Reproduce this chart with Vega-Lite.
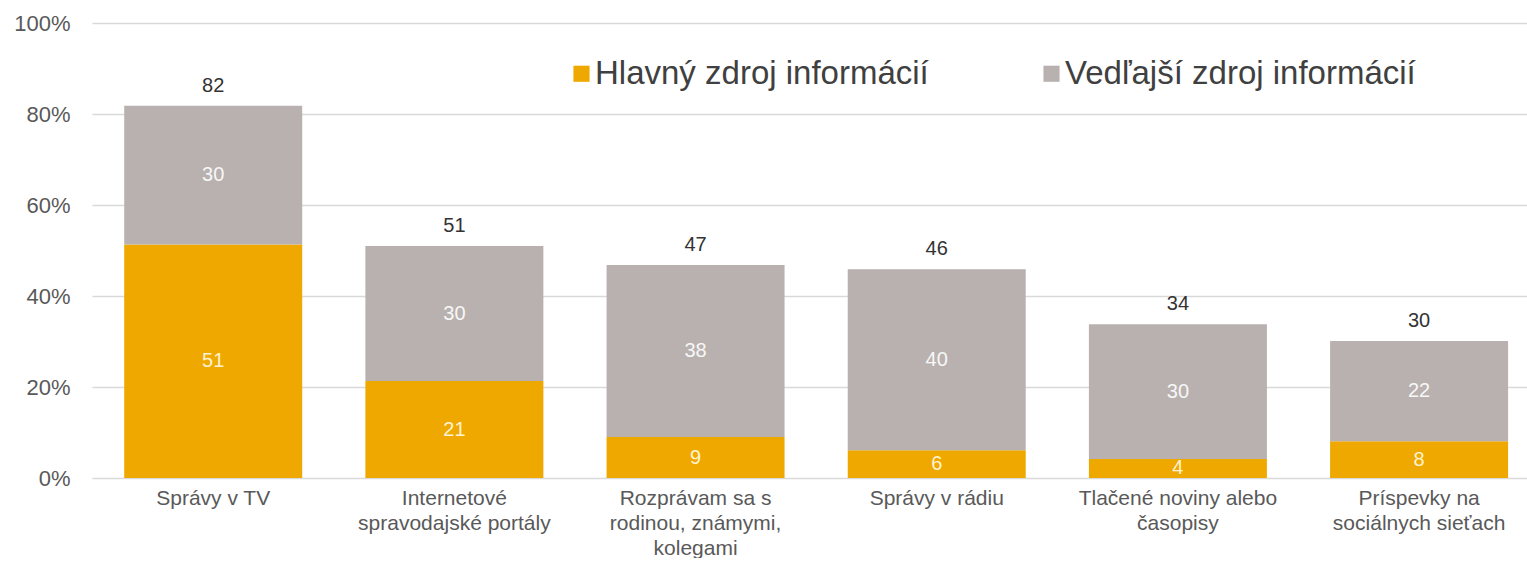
{
  "$schema": "https://vega.github.io/schema/vega-lite/v6.json",
  "width": 1435,
  "height": 455,
  "padding": {"left": 5, "top": 12, "right": 0, "bottom": 0},
  "config": {
    "view": {"stroke": null},
    "font": "Liberation Sans",
    "axis": {"labelFont": "Liberation Sans", "labelColor": "#595959"}
  },
  "datasets": {
    "segments": [
      {"category": "Správy v TV", "source": "Hlavný zdroj informácií", "value": 51.3, "label": "51"},
      {"category": "Správy v TV", "source": "Vedľajší zdroj informácií", "value": 30.5, "label": "30"},
      {"category": "Internetové\nspravodajské portály", "source": "Hlavný zdroj informácií", "value": 21.3, "label": "21"},
      {"category": "Internetové\nspravodajské portály", "source": "Vedľajší zdroj informácií", "value": 29.7, "label": "30"},
      {"category": "Rozprávam sa s\nrodinou, známymi,\nkolegami", "source": "Hlavný zdroj informácií", "value": 9.0, "label": "9"},
      {"category": "Rozprávam sa s\nrodinou, známymi,\nkolegami", "source": "Vedľajší zdroj informácií", "value": 37.8, "label": "38"},
      {"category": "Správy v rádiu", "source": "Hlavný zdroj informácií", "value": 6.1, "label": "6"},
      {"category": "Správy v rádiu", "source": "Vedľajší zdroj informácií", "value": 39.8, "label": "40"},
      {"category": "Tlačené noviny alebo\nčasopisy", "source": "Hlavný zdroj informácií", "value": 4.2, "label": "4"},
      {"category": "Tlačené noviny alebo\nčasopisy", "source": "Vedľajší zdroj informácií", "value": 29.6, "label": "30"},
      {"category": "Príspevky na\nsociálnych sieťach", "source": "Hlavný zdroj informácií", "value": 8.1, "label": "8"},
      {"category": "Príspevky na\nsociálnych sieťach", "source": "Vedľajší zdroj informácií", "value": 22.0, "label": "22"}
    ],
    "totals": [
      {"category": "Správy v TV", "total": 81.8, "label": "82"},
      {"category": "Internetové\nspravodajské portály", "total": 51.0, "label": "51"},
      {"category": "Rozprávam sa s\nrodinou, známymi,\nkolegami", "total": 46.8, "label": "47"},
      {"category": "Správy v rádiu", "total": 45.9, "label": "46"},
      {"category": "Tlačené noviny alebo\nčasopisy", "total": 33.8, "label": "34"},
      {"category": "Príspevky na\nsociálnych sieťach", "total": 30.1, "label": "30"}
    ]
  },
  "encoding": {
    "x": {
      "field": "category",
      "type": "nominal",
      "sort": null,
      "scale": {"paddingInner": 0.262, "paddingOuter": 0.106, "align": 0.63},
      "axis": {
        "title": null,
        "labelAngle": 0,
        "labelFontSize": 21,
        "labelLineHeight": 25,
        "labelPadding": 9,
        "labelLimit": 0,
        "ticks": false,
        "domain": false,
        "labelExpr": "split(datum.label, '\\n')"
      }
    }
  },
  "layer": [
    {
      "data": {"name": "segments"},
      "mark": {"type": "bar"},
      "encoding": {
        "y": {
          "field": "value",
          "type": "quantitative",
          "stack": "zero",
          "scale": {"domain": [0, 100]},
          "axis": {
            "title": null,
            "values": [0, 20, 40, 60, 80, 100],
            "labelExpr": "datum.value + '%'",
            "labelFontSize": 22,
            "labelPadding": 22,
            "ticks": false,
            "domain": false,
            "gridColor": "#D9D9D9",
            "gridWidth": 1.5,
            "minExtent": 87
          }
        },
        "order": {"field": "source", "sort": "ascending"},
        "color": {
          "field": "source",
          "type": "nominal",
          "scale": {
            "domain": ["Hlavný zdroj informácií", "Vedľajší zdroj informácií"],
            "range": ["#EFA800", "#B9B1AF"]
          },
          "legend": {
            "title": null,
            "orient": "none",
            "direction": "horizontal",
            "legendX": 473,
            "legendY": 34,
            "symbolType": "square",
            "symbolSize": 260,
            "symbolStrokeWidth": 0,
            "labelFontSize": 33,
            "labelColor": "#404040",
            "labelFont": "Liberation Sans",
            "labelOffset": -3,
            "columnPadding": 106,
            "labelLimit": 600
          }
        }
      }
    },
    {
      "data": {"name": "segments"},
      "mark": {"type": "text", "fontSize": 20, "baseline": "middle"},
      "encoding": {
        "y": {"field": "value", "type": "quantitative", "stack": "zero", "bandPosition": 0.5},
        "detail": {"field": "source"},
        "order": {"field": "source", "sort": "ascending"},
        "text": {"field": "label"},
        "color": {
          "condition": {"test": "datum.source === 'Hlavný zdroj informácií'", "value": "#FFF3D2"},
          "value": "#F7F7F7"
        }
      }
    },
    {
      "data": {"name": "totals"},
      "mark": {"type": "text", "fontSize": 20, "baseline": "alphabetic", "dy": -14, "color": "#333333"},
      "encoding": {
        "y": {"field": "total", "type": "quantitative"},
        "text": {"field": "label"}
      }
    }
  ]
}
